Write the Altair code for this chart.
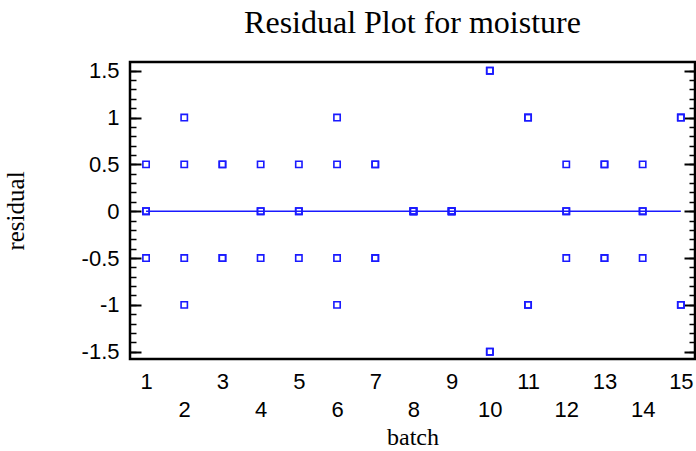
import altair as alt
import pandas as pd

batch = [1,1,1,1, 2,2,2,2, 3,3,3,3, 4,4,4,4, 5,5,5,5,
         6,6,6,6, 7,7,7,7, 8,8,8,8, 9,9,9,9, 10,10,10,10,
         11,11,11,11, 12,12,12,12, 13,13,13,13, 14,14,14,14, 15,15,15,15]
residual = [0.5,0,0,-0.5, 1,0.5,-0.5,-1, 0.5,0.5,-0.5,-0.5, 0.5,0,0,-0.5, 0.5,0,0,-0.5,
            1,0.5,-0.5,-1, 0.5,0.5,-0.5,-0.5, 0,0,0,0, 0,0,0,0, 1.5,1.5,-1.5,-1.5,
            1,1,-1,-1, 0.5,0,0,-0.5, 0.5,0.5,-0.5,-0.5, 0.5,0,0,-0.5, 1,1,-1,-1]
y_ticks = [-1.5, -1, -0.5, 0, 0.5, 1, 1.5]
y_minor = [round(-1.5 + 0.1 * i, 1) for i in range(31)]
x_ticks = list(range(1, 16))

df = pd.DataFrame({"batch": batch, "residual": residual})
zero = pd.DataFrame({"x": [min(batch)], "x2": [max(batch)], "y": [0.0]})

W, H = 565, 297
BLUE = "#1a1aff"

xscale = alt.Scale(domain=[0.58, 15.37], nice=False, zero=False)
yscale = alt.Scale(domain=[-1.578, 1.593], nice=False, zero=False)

xaxis = alt.Axis(values=x_ticks, title="batch", ticks=False, domain=False, grid=False,
                 labelExpr="datum.value % 2 == 0 ? ['', datum.label] : datum.label",
                 labelFont="Liberation Sans", labelFontSize=22, labelColor="black",
                 labelLineHeight=28, labelPadding=12, labelFlush=False, labelOverlap=False,
                 titleFont="Liberation Serif", titleFontSize=24, titleFontWeight="normal",
                 titleColor="black", titlePadding=5)

points = alt.Chart(df).mark_point(shape="square", size=40, filled=False, color=BLUE,
                                  strokeWidth=1.6, opacity=1).encode(
    x=alt.X("batch:Q", scale=xscale, axis=xaxis),
    y=alt.Y("residual:Q", scale=yscale, axis=alt.Axis(
        values=y_ticks, title="residual", orient="left", ticks=False, domain=False, grid=False,
        labelFont="Liberation Sans", labelFontSize=22, labelColor="black", labelPadding=11,
        labelFlush=False, labelOverlap=False, format="~g",
        labelExpr="replace(datum.label, '\u2212', '-')",
        titleFont="Liberation Serif", titleFontSize=25, titleFontWeight="normal",
        titleColor="black", titlePadding=53)),
)

line = alt.Chart(zero).mark_rule(color=BLUE, strokeWidth=1.5).encode(
    x=alt.X("x:Q", scale=xscale, axis=xaxis),
    x2="x2:Q",
    y=alt.Y("y:Q", scale=yscale, axis=alt.Axis(
        orient="right", offset=-W, values=y_ticks, labels=False, title=None,
        domain=False, grid=False, tickSize=11, tickWidth=2, tickColor="black")),
)

def tick_layer(orient, values, size, width):
    return alt.Chart(zero).mark_rule(opacity=0).encode(
        x=alt.X("x:Q", scale=xscale, axis=xaxis),
        x2="x2:Q",
        y=alt.Y("y:Q", scale=yscale, axis=alt.Axis(
            orient=orient, offset=-W, values=values, labels=False, title=None,
            domain=False, grid=False, tickSize=size, tickWidth=width, tickColor="black")),
    )

minor_left = tick_layer("right", y_minor, 6, 1.5)
major_right = tick_layer("left", y_ticks, 11, 2)
minor_right = tick_layer("left", y_minor, 6, 1.5)

chart = alt.layer(points, line, minor_left, major_right, minor_right).resolve_axis(
    y="independent"
).properties(
    width=W, height=H,
    title=alt.TitleParams("Residual Plot for moisture", font="Liberation Serif", fontSize=32,
                          fontWeight="normal", color="black", anchor="middle", offset=20),
    autosize=alt.AutoSizeParams(type="none"),
    padding={"left": 130, "top": 62, "right": 1, "bottom": 92},
).configure_view(stroke="black", strokeWidth=2.5)

chart.save("out.html", embed_options={"renderer": "svg", "actions": False})
